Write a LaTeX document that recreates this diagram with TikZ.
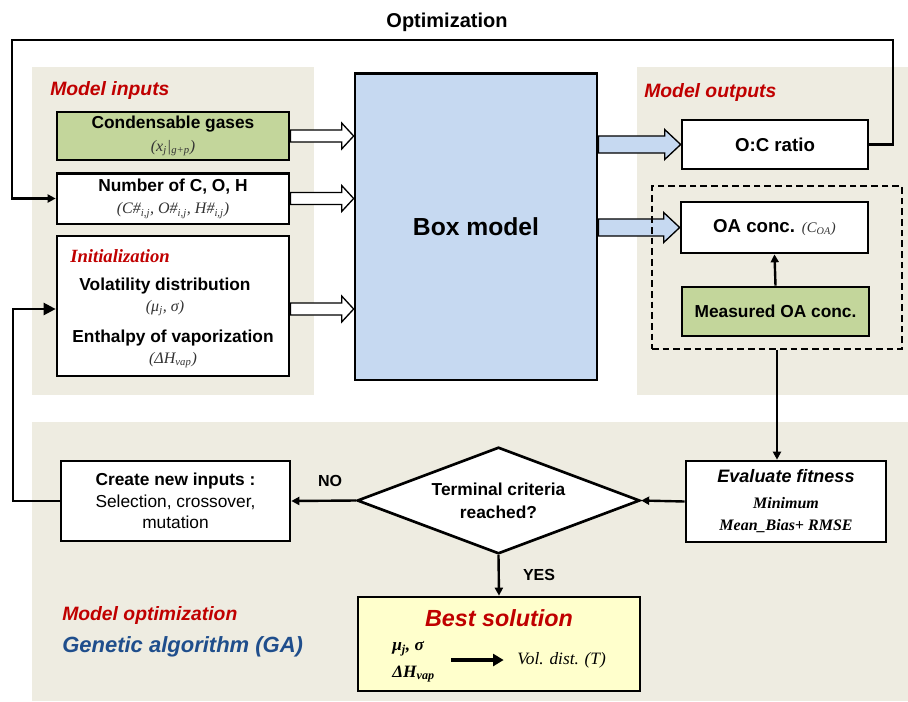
\documentclass[tikz,border=0pt]{standalone}
\usepackage{fontspec}
\setmainfont{Liberation Serif}
\setsansfont{Liberation Sans}
\usetikzlibrary{shapes.geometric,arrows.meta,calc}
\definecolor{panelbg}{HTML}{EEECE1}
\definecolor{inputgreen}{HTML}{C3D69B}
\definecolor{modelblue}{HTML}{C6D9F1}
\definecolor{bestyellow}{HTML}{FFFFCC}
\definecolor{titlered}{HTML}{C00000}
\definecolor{gablue}{HTML}{1F4E8C}
\newcommand{\symtxt}[1]{{\rmfamily\mdseries\itshape\fontsize{12}{14}\selectfont\color{black!80}#1}}
\newcommand{\fatarrow}[6]{%
  \path[#6] ($(#1)+(0,#3)$) -- ($(#1 -| #2)+(-#5,#3)$) -- ($(#1 -| #2)+(-#5,#4)$) -- (#1 -| #2)
    -- ($(#1 -| #2)+(-#5,-#4)$) -- ($(#1 -| #2)+(-#5,-#3)$) -- ($(#1)+(0,-#3)$) -- cycle;}

\begin{document}
\begin{tikzpicture}[x=0.75pt,y=0.75pt,yscale=-1,xscale=1,
    box/.style={draw, line width=2pt, fill=white, inner sep=0pt},
    lbl/.style={font=\sffamily\bfseries\fontsize{13}{17}\selectfont, align=center},
    title/.style={font=\sffamily\bfseries\itshape\fontsize{14.5}{17}\selectfont, text=titlered, anchor=west, inner sep=0pt},
    conn/.style={line width=1.8pt, -{Triangle[length=6pt,width=6pt]}},
    bigconn/.style={line width=1.8pt, -{Triangle[length=9pt,width=9pt]}},
    whitearrow/.style={draw=black, line width=1pt, fill=white},
    bluearrow/.style={draw=black, line width=1pt, fill=modelblue}]
\useasboundingbox (0,0) rectangle (908,701);

\fill[panelbg] (32,67) rectangle (314,395);
\fill[panelbg] (637,67) rectangle (908,395);
\fill[panelbg] (32,422) rectangle (908,701);

\node[lbl, font=\sffamily\bfseries\fontsize{15}{18}\selectfont] (opt) at (447,22) {Optimization};
\node[title] (intitle) at (50,90) {Model inputs};
\node[title] (outtitle) at (644,92) {Model outputs};
\node[title] (opttitle) at (62,615) {Model optimization};
\node[title, text=gablue, font=\sffamily\bfseries\itshape\fontsize{16.5}{19}\selectfont] (gatitle) at (62,647) {Genetic algorithm (GA)};

\node[box, fill=inputgreen, minimum width=174pt, minimum height=36pt, lbl] (cond) at (173,136) {Condensable gases\\\symtxt{(x\textsubscript{j}|\textsubscript{g+p})}};
\node[box, minimum width=174pt, minimum height=38pt, lbl] (num) at (173,198.5) {Number of C, O, H\\\symtxt{(C\#\textsubscript{i,j}, O\#\textsubscript{i,j}, H\#\textsubscript{i,j})}};
\node[box, minimum width=174pt, minimum height=105pt] (init) at (173,306) {};
\node[anchor=west, inner sep=0pt, text=titlered, font=\rmfamily\bfseries\itshape\fontsize{14}{17}\selectfont] (inittitle) at (70,256) {Initialization};
\node[lbl] (vd) at (165,286) {Volatility distribution};
\node (vdsym) at (165,308) {\symtxt{(μ\textsubscript{j}, σ)}};
\node[lbl] (ent) at (173,338) {Enthalpy of vaporization};
\node (entsym) at (173,360) {\symtxt{(ΔH\textsubscript{vap})}};

\node[box, fill=modelblue, minimum width=181.5pt, minimum height=230pt, lbl, font=\sffamily\bfseries\fontsize{18.5}{22}\selectfont] (boxmodel) at (476,226.5) {Box model};

\node[box, minimum width=139.5pt, minimum height=36.75pt, lbl, font=\sffamily\bfseries\fontsize{14}{17}\selectfont] (oc) at (775,144.5) {O:C ratio};
\node[box, minimum width=140.25pt, minimum height=38.25pt, lbl, font=\sffamily\bfseries\fontsize{14}{17}\selectfont] (oa) at (774.5,227.5) {OA conc. \symtxt{\fontsize{11}{13}\selectfont(C\textsubscript{OA})}};
\node[box, fill=inputgreen, minimum width=140.25pt, minimum height=36.75pt, lbl] (meas) at (775.5,311.5) {Measured OA conc.};

\node[box, minimum width=150pt, minimum height=60.75pt, lbl] (eval) at (786,501.5) {{\itshape\fontsize{13.5}{17}\selectfont Evaluate fitness}\\[2pt]{\rmfamily\itshape\fontsize{12}{15}\selectfont Minimum}\\{\rmfamily\itshape\fontsize{12}{15}\selectfont Mean\_Bias+ RMSE}};
\node[box, diamond, aspect=2.6, minimum width=212pt, minimum height=80pt, lbl] (dia) at (498.5,500.5) {Terminal criteria\\reached?};
\node[box, minimum width=171.75pt, minimum height=60pt, lbl, font=\sffamily\bfseries\fontsize{13}{16}\selectfont] (create) at (175.5,501) {Create new inputs :\\{\mdseries Selection, crossover,}\\{\mdseries mutation}};

\node[box, fill=bestyellow, minimum width=211.5pt, minimum height=70.5pt] (best) at (499,644) {};
\node[title, anchor=center, font=\sffamily\bfseries\itshape\fontsize{17.5}{20}\selectfont] (bsttl) at (499,618) {Best solution};
\node[anchor=west, inner sep=0pt, align=left, font=\rmfamily\bfseries\itshape\fontsize{13}{20}\selectfont] (bsin) at (392,662) {μ\textsubscript{j}, σ\\ΔH\textsubscript{vap}};
\node[anchor=west, inner sep=0pt, font=\rmfamily\itshape\fontsize{13}{16}\selectfont] (bsout) at (517,660) {Vol. dist. (T)};

\fatarrow{cond.east}{boxmodel.west}{4.5pt}{9.75pt}{9pt}{whitearrow}
\fatarrow{num.east}{boxmodel.west}{4.5pt}{9.75pt}{9pt}{whitearrow}
\coordinate (initout) at ($(init.east)+(0,3)$);
\fatarrow{initout}{boxmodel.west}{4.5pt}{9.75pt}{9pt}{whitearrow}
\coordinate (ocin) at (boxmodel.east |- oc.west);
\coordinate (oain) at (boxmodel.east |- oa.west);
\fatarrow{ocin}{oc.west}{6.4pt}{11.25pt}{12pt}{bluearrow}
\fatarrow{oain}{oa.west}{6.4pt}{11.25pt}{12pt}{bluearrow}

\node[draw, dashed, line width=1.2pt, dash pattern=on 5pt off 3pt, minimum width=187.5pt, minimum height=122.25pt] (dashbox) at (777,267.5) {};

\coordinate (optR) at (893,40);
\coordinate (optL) at (12,40);
\coordinate (backL) at (13,0);
\draw[conn] (oc.east) -| (optR) -- (optL) |- (num.west);
\draw[conn] (meas.north) -- (oa.south);
\draw[conn] (dashbox.south) -- (dashbox.south |- eval.north);
\draw[conn] (eval.west) -- (dia.east);
\draw[conn] (dia.west) -- node[pos=0.4, above=6pt, lbl, font=\sffamily\bfseries\fontsize{12}{14}\selectfont] {NO} (create.east);
\draw[conn] (dia.south) -- node[right=14pt, lbl, font=\sffamily\bfseries\fontsize{12}{14}\selectfont] {YES} (best.north);
\draw[bigconn] (create.west) -| (backL |- initout) -- (init.west |- initout);
\draw[line width=2.5pt, -{Triangle[length=8pt,width=9pt]}, shorten <=12pt, shorten >=10pt] (bsin.east |- bsout.west) -- (bsout.west);
\end{tikzpicture}
\end{document}
